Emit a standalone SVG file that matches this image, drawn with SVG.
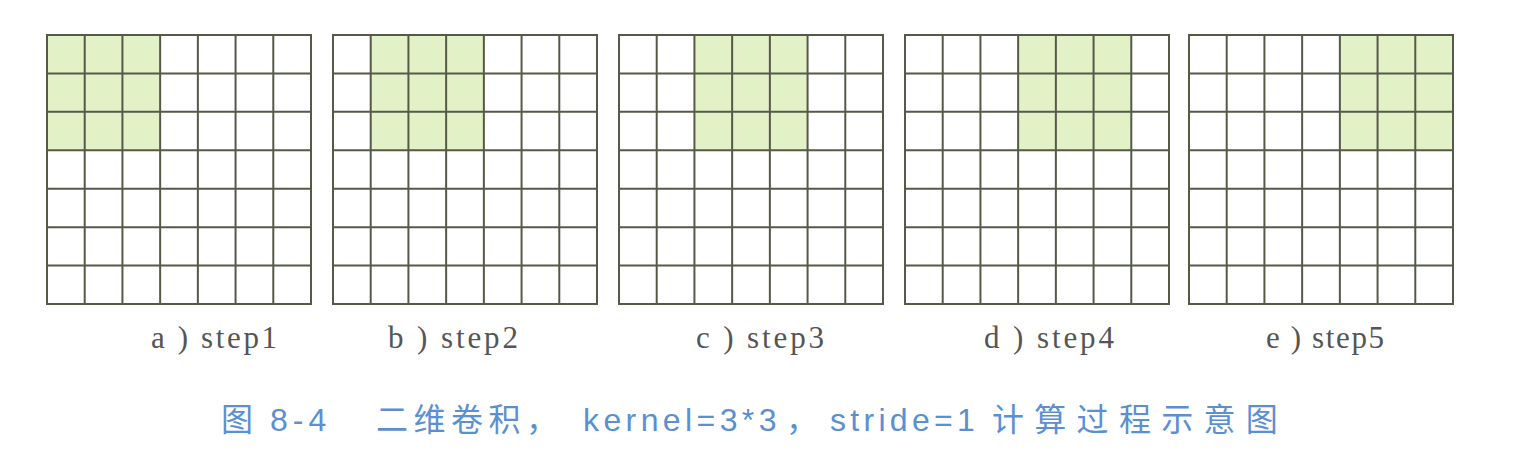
<svg xmlns="http://www.w3.org/2000/svg" xmlns:xlink="http://www.w3.org/1999/xlink" width="1537" height="471" viewBox="0 0 1537 471">
<style>
.bg{fill:#ffffff}
.hl{fill:#e3f1c6}
.gl{stroke:#555a48;stroke-width:2;fill:none}
.lbl{font-family:"Liberation Serif","Noto Sans CJK SC",serif;font-size:31px;fill:#555555}
.cap{font-family:"Liberation Sans","Noto Sans CJK SC",sans-serif;font-size:32px;fill:#5a8fd2}
.cjk{font-family:"Noto Sans CJK SC",sans-serif}
</style>
<defs>
<g id="gridlines" class="gl">
<rect x="0" y="0" width="264" height="269"/>
<path d="M37.71 0V269M75.43 0V269M113.14 0V269M150.86 0V269M188.57 0V269M226.29 0V269M0 38.43H264M0 76.86H264M0 115.29H264M0 153.71H264M0 192.14H264M0 230.57H264"/>
</g>
</defs>
<rect class="bg" x="0" y="0" width="1537" height="471"/>
<g id="step1" transform="translate(47,35)">
<rect class="hl" x="0" y="0" width="113.14" height="115.29"/>
<use xlink:href="#gridlines"/>
</g>
<g id="step2" transform="translate(333,35)">
<rect class="hl" x="37.71" y="0" width="113.14" height="115.29"/>
<use xlink:href="#gridlines"/>
</g>
<g id="step3" transform="translate(619,35)">
<rect class="hl" x="75.43" y="0" width="113.14" height="115.29"/>
<use xlink:href="#gridlines"/>
</g>
<g id="step4" transform="translate(905,35)">
<rect class="hl" x="113.14" y="0" width="113.14" height="115.29"/>
<use xlink:href="#gridlines"/>
</g>
<g id="step5" transform="translate(1189,35)">
<rect class="hl" x="150.86" y="0" width="113.14" height="115.29"/>
<use xlink:href="#gridlines"/>
</g>
<g id="connectors"></g>
<g id="labels">
<text class="lbl" x="151" y="348" textLength="126" lengthAdjust="spacing">a ) step1</text>
<text class="lbl" x="388" y="348" textLength="130" lengthAdjust="spacing">b ) step2</text>
<text class="lbl" x="696" y="348" textLength="128" lengthAdjust="spacing">c ) step3</text>
<text class="lbl" x="984" y="348" textLength="130" lengthAdjust="spacing">d ) step4</text>
<text class="lbl" x="1266" y="348" textLength="118" lengthAdjust="spacing">e ) step5</text>
</g>
<g id="caption">
<text class="cap" y="431"><tspan class="cjk" x="221">图</tspan><tspan x="270" letter-spacing="5">8-4</tspan><tspan class="cjk" x="376" letter-spacing="5.5">二维卷积</tspan><tspan class="cjk" x="526">，</tspan><tspan x="583" letter-spacing="4.4">kernel=3*3</tspan><tspan class="cjk" x="786">，</tspan><tspan x="830" letter-spacing="4.3">stride=1</tspan><tspan class="cjk" x="992" letter-spacing="10.3">计算过程示意图</tspan></text>
</g>
</svg>
